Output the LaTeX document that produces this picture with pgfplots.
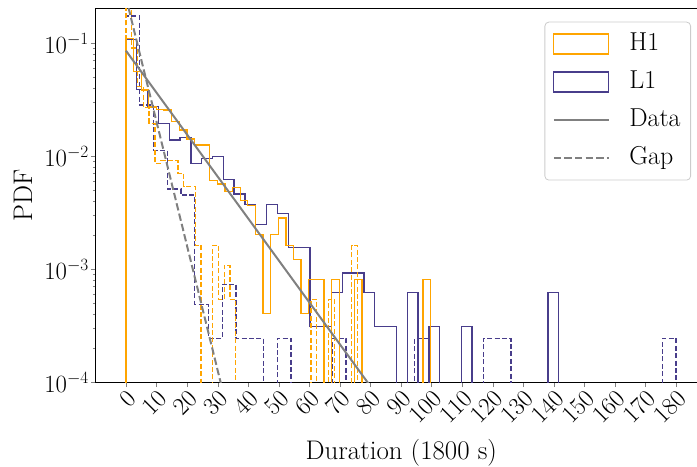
\documentclass[border=0pt]{standalone}
\usepackage{pgfplots}
\pgfplotsset{compat=1.18}
\definecolor{hone}{HTML}{FFA500}
\definecolor{lone}{HTML}{483D8B}
\definecolor{fitgray}{HTML}{808080}
\pgfplotsset{
  patchlegend/.style={legend image code/.code={\draw[##1, sharp corners] (0bp,-10bp) rectangle (55bp,10bp);}},
  linelegend/.style={legend image code/.code={\draw[##1, sharp corners] (0bp,0bp) -- (55bp,0bp);}},
  hist/.style={const plot mark left, no marks, line width=1.3bp},
  gapdash/.style={dash pattern=on 5bp off 2.4bp},
}
\begin{document}
\begin{tikzpicture}
\begin{axis}[
  scale only axis,
  width=610.6bp, height=374bp,
  xmin=-9.8, xmax=190,
  ymode=log, ymin=1e-4, ymax=0.204,
  axis line style={line width=1bp},
  tick align=outside,
  xtick pos=left, ytick pos=left,
  major tick length=5bp, minor tick length=3bp,
  xtick={0,10,...,180},
  ytick={1e-4,1e-3,1e-2,1e-1},
  tick label style={font=\fontsize{23}{27}\selectfont},
  xticklabel style={rotate=45, anchor=north east, inner sep=1bp},
  yticklabel style={inner sep=2bp},
  every axis x label/.style={at={(axis description cs:0.5,-0.19)}, anchor=center, font=\fontsize{27}{32}\selectfont},
  every axis y label/.style={at={(axis description cs:-0.1196,0.5)}, rotate=90, anchor=center, font=\fontsize{27}{32}\selectfont},
  xlabel={Duration (1800 s)},
  ylabel={PDF},
  legend style={at={(axis description cs:0.9745,0.9634)}, anchor=north east,
    draw=black!20, rounded corners=4bp, line width=0.8bp,
    font=\fontsize{26}{31}\selectfont, inner sep=8bp, row sep=10bp, column sep=17.5bp,
    nodes={text height=18bp, text depth=6bp, inner sep=2bp}},
  legend cell align=left,
]
% L1 data
\addplot[hist, lone, forget plot] coordinates {
(0,1e-7) (0,0.1078) (3.54,0.03851) (7.08,0.02742) (10.62,0.01941) (14.16,0.01386)
(17.7,0.01448) (21.24,0.008626) (24.78,0.00955) (28.32,0.009858) (31.86,0.006161)
(35.4,0.004621) (38.94,0.003697) (42.48,0.002465) (46.02,0.003697) (49.56,0.003081)
(53.1,0.00154) (56.64,0.00154) (60.18,0.000308) (63.72,0.000308) (67.26,0.000616)
(70.8,0.000924) (74.34,0.000924) (77.88,0.000616) (81.42,0.000308) (84.96,0.000308)
(88.5,1e-7) (92.04,0.000616) (95.58,1e-7) (99.12,0.000308) (102.66,1e-7)
(109.74,0.000308) (113.28,1e-7) (138.06,0.000616) (141.6,1e-7)
};
% L1 gap
\addplot[hist, gapdash, lone, forget plot] coordinates {
(0,1e-7) (0,0.173) (4.5,0.0283) (9,0.01122) (13.5,0.00512) (18,0.00452)
(22.5,0.000488) (27,0.000244) (31.5,0.000732) (36,0.000244) (40.5,0.000244)
(45,1e-7) (49.5,0.000244) (54,1e-7) (67.5,0.000244) (72,1e-7)
(94.5,0.000244) (99,1e-7) (117,0.000244) (121.5,0.000244) (126,1e-7)
(175.5,0.000244) (180,1e-7)
};
% H1 data
\addplot[hist, hone, forget plot] coordinates {
(0,1e-7) (0,0.1101) (2.4925,0.05628) (4.985,0.03846) (7.4775,0.02713) (9.97,0.02591)
(12.4625,0.02551) (14.955,0.02024) (17.4475,0.017) (19.94,0.01417) (22.4325,0.01255)
(24.925,0.01255) (27.4175,0.006073) (29.91,0.005668) (32.4025,0.004858) (34.895,0.005263)
(37.3875,0.004049) (39.88,0.003644) (42.3725,0.002024) (44.865,0.000405) (47.3575,0.002024)
(49.85,0.002834) (52.3425,0.001619) (54.835,0.001215) (57.3275,0.000405) (59.82,0.00081)
(62.3125,0.00081) (64.805,1e-7) (67.2975,0.00081) (69.79,1e-7) (74.775,0.00081)
(77.2675,1e-7) (97.2075,0.00081) (99.7,1e-7)
};
% H1 gap
\addplot[hist, gapdash, hone, forget plot] coordinates {
(0,1e-7) (0,0.2885) (1.8925,0.09022) (3.785,0.04106) (5.6775,0.02701) (7.57,0.01945)
(9.4625,0.008644) (11.355,0.009184) (13.2475,0.009184) (15.14,0.009184) (17.0325,0.007023)
(18.925,0.005402) (20.8175,0.005402) (22.71,0.001621) (24.6025,1e-7) (28.3875,0.001621)
(30.28,0.00054) (32.1725,0.00108) (34.065,0.00054) (35.9575,1e-7)
(60.56,0.00054) (62.4525,1e-7) (66.2375,0.00054) (68.13,1e-7)
(73.8075,0.001621) (75.7,1e-7)
};
% exponential fits
\addplot[fitgray, line width=2bp, no marks, forget plot] coordinates {(0,0.0855) (100,1.66e-5)};
\addplot[fitgray, line width=2bp, no marks, dash pattern=on 7.4bp off 3.2bp, forget plot] coordinates {(0,0.2532) (40,1.012e-5)};
\addlegendimage{patchlegend, draw=hone, line width=1.2bp}
\addlegendentry{H1}
\addlegendimage{patchlegend, draw=lone, line width=1.2bp}
\addlegendentry{L1}
\addlegendimage{linelegend, fitgray, line width=2bp}
\addlegendentry{Data}
\addlegendimage{linelegend, fitgray, line width=2bp, dash pattern=on 7.4bp off 3.2bp}
\addlegendentry{Gap}
\end{axis}
\pgfresetboundingbox
\path[use as bounding box] (-96bp,-85bp) rectangle (601bp,382bp);
\end{tikzpicture}
\end{document}
